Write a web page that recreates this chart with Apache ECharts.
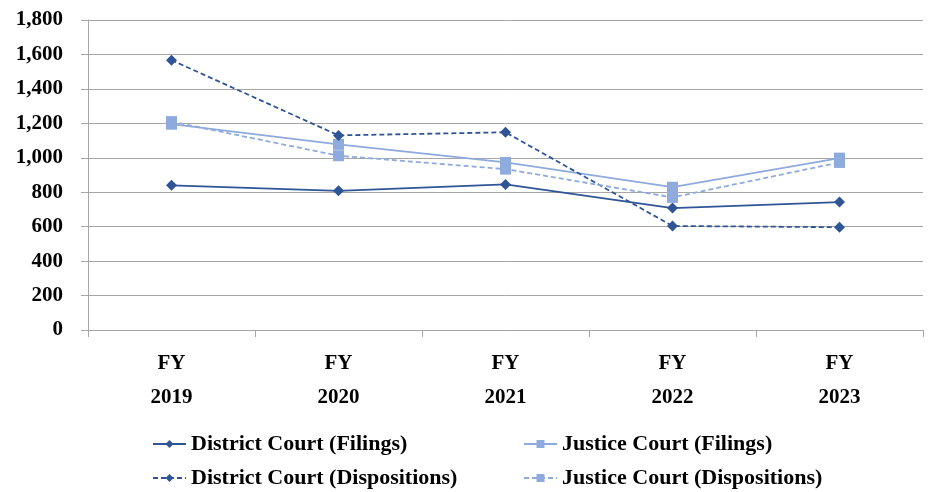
<!DOCTYPE html>
<html><head><meta charset="utf-8">
<script src="https://cdn.jsdelivr.net/npm/echarts@6/dist/echarts.min.js"></script>
<style>html,body{margin:0;padding:0;background:#fff}#c{width:932px;height:492px}</style>
</head><body><div id="c"></div>
<script>
const categories = ['FY\n2019','FY\n2020','FY\n2021','FY\n2022','FY\n2023'];
const districtFilings = [840, 808, 845, 708, 743];
const justiceFilings = [1195, 1078, 973, 829, 998];
const districtDispositions = [1567, 1130, 1148, 604, 597];
const justiceDispositions = [1210, 1012, 934, 770, 973];
const yTicks = {min: 0, max: 1800, interval: 200};

const dark = '#2F5597', light = '#8FAADC';
const font = 'Liberation Serif';
function mk(name, data, color, dashed, symbol, size) {
  return {name, type:'line', data, symbol, symbolSize:size, showSymbol:true,
    lineStyle:{color, width:1.8, type: dashed ? [5,3] : 'solid'},
    itemStyle:{color}, emphasis:{disabled:true}};
}
const chart = echarts.init(document.getElementById('c'));
const legendText = {fontFamily:font, fontWeight:'bold', fontSize:22, color:'#000'};
function lg(name, left, top) {
  return {data:[name], left, top, itemWidth:33, itemHeight:10, itemGap:4, padding:0, textStyle:legendText};
}
chart.setOption({
  animation:false,
  grid:{left:88, right:9, top:20, bottom:162},
  legend:[
    lg('District Court (Filings)', 152, 433),
    lg('District Court (Dispositions)', 152, 467),
    lg('Justice Court (Filings)', 523, 433),
    lg('Justice Court (Dispositions)', 523, 467)
  ],
  xAxis:{type:'category', data:categories, boundaryGap:true,
    axisLine:{lineStyle:{color:'#A6A6A6'}},
    axisTick:{show:true, length:7, lineStyle:{color:'#A6A6A6'}},
    axisLabel:{fontFamily:font, fontWeight:'bold', fontSize:21, color:'#000', lineHeight:34, margin:17}},
  yAxis:{type:'value', min:yTicks.min, max:yTicks.max, interval:yTicks.interval,
    axisLine:{show:true, lineStyle:{color:'#A6A6A6'}},
    axisTick:{show:true, length:7, lineStyle:{color:'#A6A6A6'}},
    splitLine:{lineStyle:{color:'#A6A6A6'}},
    axisLabel:{fontFamily:font, fontWeight:'bold', fontSize:21, color:'#000', margin:25,
      formatter:v=>v.toLocaleString('en-US')}},
  series:[
    mk('District Court (Filings)', districtFilings, dark, false, 'diamond', 11),
    mk('Justice Court (Filings)', justiceFilings, light, false, 'rect', 11),
    mk('District Court (Dispositions)', districtDispositions, dark, true, 'diamond', 11),
    mk('Justice Court (Dispositions)', justiceDispositions, light, true, 'rect', 11)
  ]
});
</script></body></html>
